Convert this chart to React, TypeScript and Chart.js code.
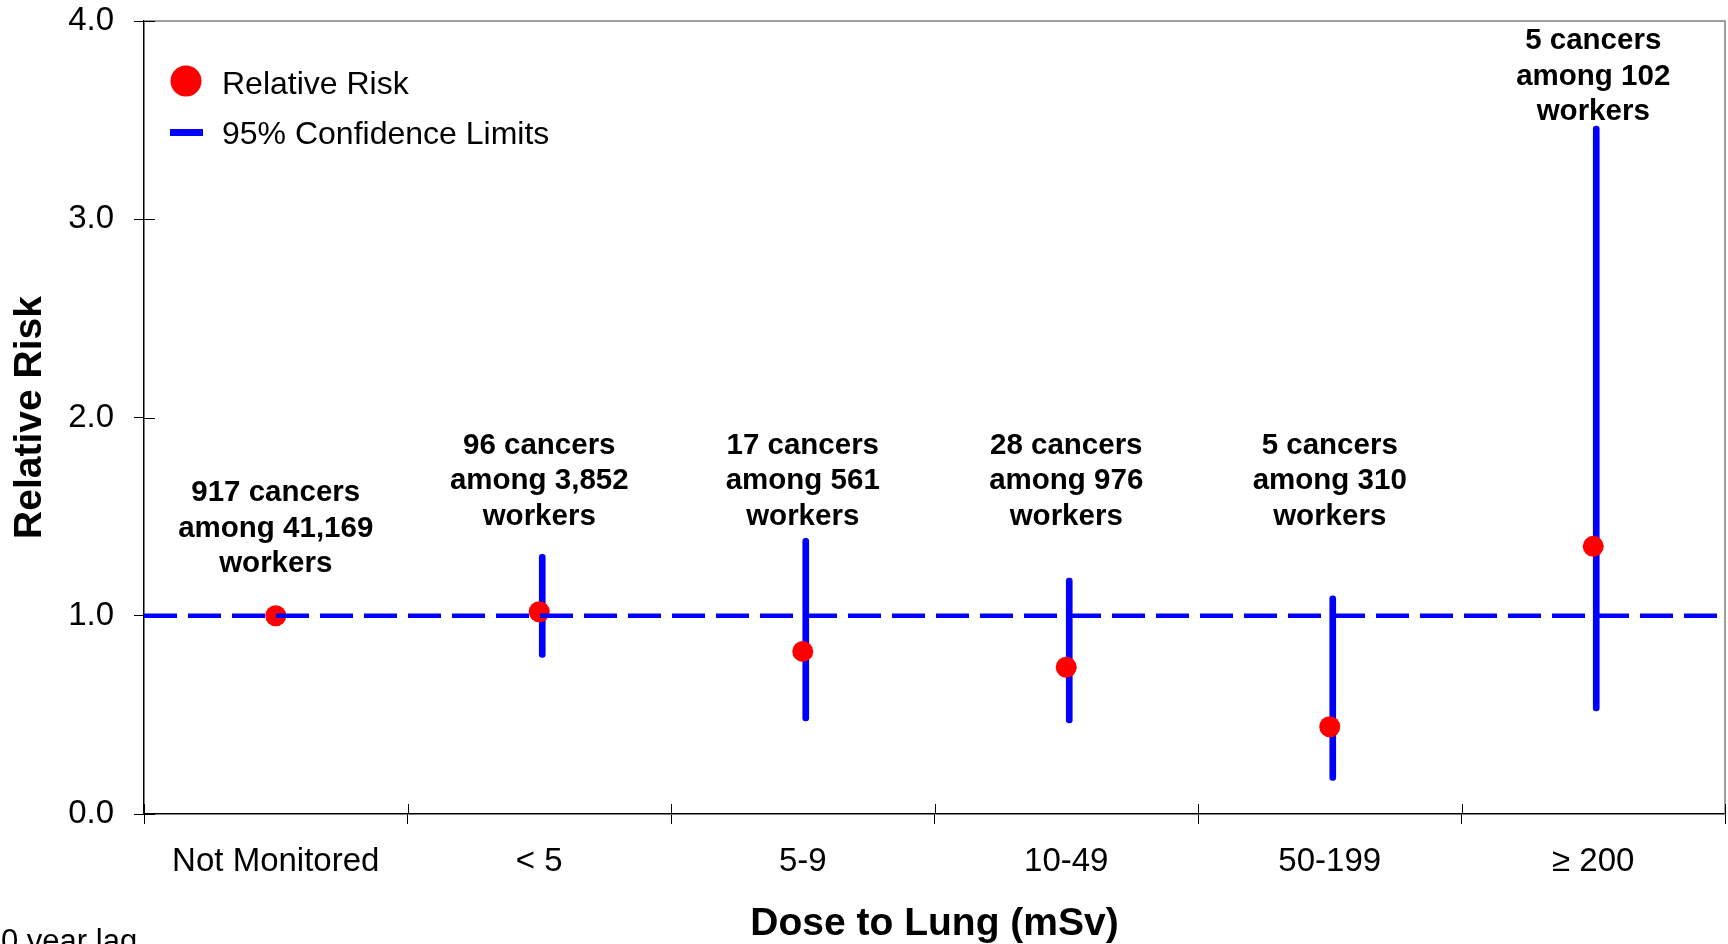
import React, { useEffect, useRef } from "react";
import { Chart, registerables } from "chart.js";

Chart.register(...registerables);

const categories = ["Not Monitored", "< 5", "5-9", "10-49", "50-199", "\u2265 200"];
const relativeRisk = [1.0, 1.02, 0.82, 0.74, 0.44, 1.35];
const ciLower: (number | null)[] = [null, 0.79, 0.47, 0.46, 0.17, 0.52];
const ciUpper: (number | null)[] = [null, 1.31, 1.39, 1.19, 1.1, 3.47];
const referenceRisk = 1.0;
const annotationText = [
  ["917 cancers", "among 41,169", "workers"],
  ["96 cancers", "among 3,852", "workers"],
  ["17 cancers", "among 561", "workers"],
  ["28 cancers", "among 976", "workers"],
  ["5 cancers", "among 310", "workers"],
  ["5 cancers", "among 102", "workers"],
];
// value (in relative-risk units) at which the middle line of each annotation sits
const annotationY = [1.44, 1.68, 1.68, 1.68, 1.68, 3.72];
const yTicks = [0, 1, 2, 3, 4];

const FONT = "'Liberation Sans', Arial, Helvetica, sans-serif";
const RED = "#FF0000";
const BLUE = "#0000FF";

const decorPlugin = {
  id: "decor",
  beforeDatasetsDraw(chart: any) {
    const { ctx, chartArea: a, scales } = chart;
    ctx.save();
    // top & right frame (gray)
    ctx.strokeStyle = "#7f7f7f";
    ctx.lineWidth = 1.5;
    ctx.beginPath();
    ctx.moveTo(a.left, a.top);
    ctx.lineTo(a.right, a.top);
    ctx.lineTo(a.right, a.bottom);
    ctx.stroke();
    // inner halves of tick marks
    ctx.strokeStyle = "#000";
    ctx.lineWidth = 1;
    ctx.beginPath();
    yTicks.forEach((v) => {
      const py = Math.round(scales.y.getPixelForValue(v)) + 0.5;
      ctx.moveTo(a.left, py);
      ctx.lineTo(a.left + 11, py);
    });
    for (let i = 0; i <= categories.length; i++) {
      const px = Math.round(scales.x.getPixelForValue(i - 0.5)) + 0.5;
      ctx.moveTo(px, a.bottom);
      ctx.lineTo(px, a.bottom - 10);
    }
    ctx.stroke();
    ctx.restore();
  },
  afterDatasetsDraw(chart: any) {
    const { ctx, scales } = chart;
    ctx.save();
    // annotations
    ctx.fillStyle = "#000";
    ctx.font = `bold 29.5px ${FONT}`;
    ctx.textAlign = "center";
    ctx.textBaseline = "middle";
    annotationText.forEach((lines, i) => {
      const x = scales.x.getPixelForValue(i);
      const yMid = scales.y.getPixelForValue(annotationY[i]);
      lines.forEach((t, k) => {
        ctx.fillText(t, x, yMid + (k - 1) * 35.5);
      });
    });
    // legend
    ctx.fillStyle = RED;
    ctx.beginPath();
    ctx.arc(186, 81, 15.5, 0, Math.PI * 2);
    ctx.fill();
    ctx.fillStyle = BLUE;
    ctx.fillRect(170, 129, 33, 7);
    ctx.fillStyle = "#000";
    ctx.font = `32px ${FONT}`;
    ctx.textAlign = "left";
    ctx.fillText("Relative Risk", 222, 85);
    ctx.fillText("95% Confidence Limits", 222, 135);
    // footnote
    ctx.textBaseline = "alphabetic";
    ctx.font = `31px ${FONT}`;
    ctx.fillText("0 year lag", 1, 951);
    ctx.restore();
  },
};

export default function App() {
  const ref = useRef<HTMLCanvasElement>(null);
  useEffect(() => {
    if (!ref.current) return;
    const ciData = categories.map((_, i) =>
      ciLower[i] == null || ciUpper[i] == null ? null : [ciLower[i], ciUpper[i]]
    );
    const chart = new Chart(ref.current, {
      type: "bar",
      data: {
        labels: categories,
        datasets: [
          {
            type: "line",
            label: "Reference",
            data: [
              { x: 0, y: referenceRisk },
              { x: 1, y: referenceRisk },
            ],
            xAxisID: "x2",
            borderColor: BLUE,
            borderWidth: 4.5,
            borderDash: [33, 11],
            pointRadius: 0,
            fill: false,
            order: 0,
          } as any,
          {
            type: "line",
            label: "Relative Risk",
            data: relativeRisk,
            showLine: false,
            pointRadius: 10.5,
            pointHoverRadius: 10.5,
            pointBackgroundColor: RED,
            pointBorderWidth: 0,
            borderColor: RED,
            order: 1,
          } as any,
          {
            type: "bar",
            label: "95% Confidence Limits",
            data: ciData as any,
            backgroundColor: BLUE,
            barThickness: 6,
            borderRadius: 3,
            borderSkipped: false,
            borderWidth: 0,
            order: 2,
          } as any,
        ],
      },
      options: {
        responsive: false,
        animation: false,
        devicePixelRatio: 1,
        layout: { autoPadding: false, padding: { top: 21, right: 3, left: 0, bottom: 0 } },
        plugins: {
          legend: { display: false },
          tooltip: { enabled: false },
        },
        scales: {
          x: {
            type: "category",
            offset: true,
            grid: {
              offset: true,
              drawOnChartArea: false,
              drawTicks: true,
              tickLength: 10,
              color: "#000",
              lineWidth: 1,
            },
            border: { display: true, color: "#000", width: 1.5 },
            ticks: {
              color: "#000",
              font: { family: FONT, size: 33 },
              padding: 18,
              maxRotation: 0,
              autoSkip: false,
            },
            title: {
              display: true,
              text: "Dose to Lung (mSv)",
              color: "#000",
              font: { family: FONT, size: 39, weight: "bold", lineHeight: 1 },
              padding: { top: 0, bottom: 0 },
            },
            afterFit: (s: any) => {
              s.height = 130;
              s.paddingLeft = 0;
              s.paddingRight = 0;
            },
          },
          x2: {
            type: "linear",
            display: false,
            offset: false,
            min: 0,
            max: 1,
          },
          y: {
            type: "linear",
            min: 0,
            max: 4,
            afterBuildTicks: (s: any) => {
              s.ticks = yTicks.map((v) => ({ value: v }));
            },
            grid: {
              drawOnChartArea: false,
              drawTicks: true,
              tickLength: 10,
              color: "#000",
              lineWidth: 1,
            },
            border: { display: true, color: "#000", width: 1.5 },
            ticks: {
              color: "#000",
              font: { family: FONT, size: 33 },
              padding: 20,
              callback: (v: any) => Number(v).toFixed(1),
            },
            title: {
              display: true,
              text: "Relative Risk",
              color: "#000",
              font: { family: FONT, size: 39, weight: "bold", lineHeight: 1 },
              padding: { top: 11, bottom: 0 },
            },
            afterFit: (s: any) => {
              s.width = 144;
              s.paddingTop = 0;
              s.paddingBottom = 0;
            },
          },
        },
      },
      plugins: [decorPlugin],
    });
    return () => chart.destroy();
  }, []);
  return (
    <canvas
      ref={ref}
      width={1728}
      height={944}
      style={{ position: "fixed", left: 0, top: 0, width: 1728, height: 944 }}
    />
  );
}
